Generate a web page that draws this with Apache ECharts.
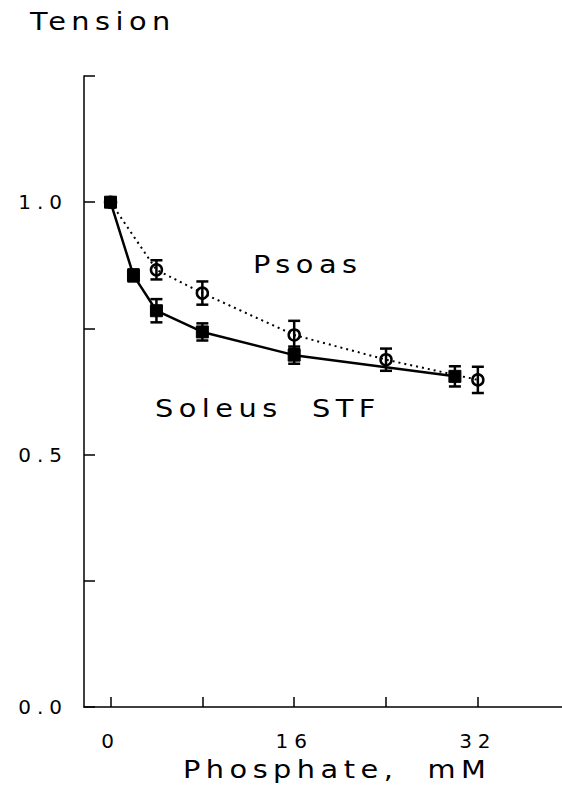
<!DOCTYPE html>
<html>
<head>
<meta charset="utf-8">
<script src="https://cdn.jsdelivr.net/npm/echarts@6/dist/echarts.min.js"></script>
<style>
  html, body { margin: 0; padding: 0; background: #fff; }
  #chart { width: 562px; height: 807px; }
  #chart text { letter-spacing: 0.3em; }
  #chart text[style*="24px"] { letter-spacing: 0.19em; }
</style>
</head>
<body>
<div id="chart"></div>
<script>
// ---- data ----
const soleusX   = [0, 2, 4, 8, 16, 30];
const soleusY   = [1.0, 0.855, 0.785, 0.743, 0.697, 0.655];
const soleusErr = [0, 0.012, 0.023, 0.017, 0.017, 0.02];

const psoasX    = [0, 4, 8, 16, 24, 32];
const psoasY    = [1.0, 0.866, 0.82, 0.737, 0.688, 0.648];
const psoasErr  = [0, 0.019, 0.023, 0.028, 0.022, 0.026];

const xTickValues  = [0, 8, 16, 24, 32];
const xLabelValues = [0, 16, 32];
const yLabelValues = [0, 0.5, 1.0];

const xTitle = 'Phosphate,  mM';
const yTitle = 'Tension';
const psoasLabel = 'Psoas';
const soleusLabel = 'Soleus  STF';

// ---- build ----
const FONT = '"DejaVu Sans", sans-serif';
const soleusData = soleusX.map((x, i) => [x, soleusY[i]]);
const psoasData = psoasX.map((x, i) => [x, psoasY[i]]);
const soleusErrData = soleusX.map((x, i) => [x, soleusY[i], soleusErr[i]]);
const psoasErrData = psoasX.map((x, i) => [x, psoasY[i], psoasErr[i]]);

function errRender(params, api) {
  const x = api.value(0), y = api.value(1), e = api.value(2);
  if (!e) return null;
  const t = api.coord([x, y + e]);
  const b = api.coord([x, y - e]);
  const w = 6;
  const st = { stroke: '#000', lineWidth: 2.5 };
  return {
    type: 'group',
    children: [
      { type: 'line', shape: { x1: t[0], y1: t[1], x2: b[0], y2: b[1] }, style: st },
      { type: 'line', shape: { x1: t[0] - w, y1: t[1], x2: t[0] + w, y2: t[1] }, style: st },
      { type: 'line', shape: { x1: b[0] - w, y1: b[1], x2: b[0] + w, y2: b[1] }, style: st }
    ]
  };
}

function label(text, x, y) {
  return { type: 'text', x: x, y: y, scaleX: 1.2, scaleY: 1,
    style: { text: text, fontSize: 24, fontFamily: FONT, fill: '#000', verticalAlign: 'middle', align: 'left' } };
}

const chart = echarts.init(document.getElementById('chart'), null, { renderer: 'svg' });
chart.setOption({
  backgroundColor: '#fff',
  animation: false,
  grid: { left: 84, top: 76, right: 0, bottom: 100, containLabel: false },
  xAxis: {
    type: 'value',
    min: -2.31,
    max: 39.33,
    axisLine: { show: true, onZero: false, lineStyle: { color: '#000', width: 1.5 } },
    axisTick: { show: true, inside: true, length: 10, customValues: xTickValues, lineStyle: { color: '#000', width: 1.5 } },
    axisLabel: { customValues: xLabelValues, margin: 24, color: '#000', fontSize: 20, fontFamily: FONT },
    splitLine: { show: false }
  },
  yAxis: {
    type: 'value',
    min: 0,
    max: 1.25,
    interval: 0.25,
    axisLine: { show: true, onZero: false, lineStyle: { color: '#000', width: 1.5 } },
    axisTick: { show: true, inside: true, length: 11, lineStyle: { color: '#000', width: 1.5 } },
    axisLabel: {
      margin: 16, color: '#000', fontSize: 20, fontFamily: FONT,
      formatter: v => (yLabelValues.some(u => Math.abs(u - v) < 1e-6) ? v.toFixed(1) : '')
    },
    splitLine: { show: false }
  },
  graphic: [
    label(yTitle, 30, 21),
    label(psoasLabel, 253, 264),
    label(soleusLabel, 155, 408),
    label(xTitle, 183, 769)
  ],
  series: [
    {
      name: 'Psoas', type: 'line', data: psoasData, z: 3,
      lineStyle: { color: '#000', width: 2, type: [2, 4] },
      symbol: 'circle', symbolSize: 11,
      itemStyle: { color: 'rgba(0,0,0,0)', borderColor: '#000', borderWidth: 2.5 }
    },
    {
      name: 'Soleus STF', type: 'line', data: soleusData, z: 4,
      lineStyle: { color: '#000', width: 2.5 },
      symbol: 'rect', symbolSize: 12,
      itemStyle: { color: '#000', borderColor: '#000', borderWidth: 1 }
    },
    { type: 'custom', renderItem: errRender, data: psoasErrData, z: 5, encode: { x: 0, y: 1 } },
    { type: 'custom', renderItem: errRender, data: soleusErrData, z: 5, encode: { x: 0, y: 1 } }
  ]
});
</script>
</body>
</html>
